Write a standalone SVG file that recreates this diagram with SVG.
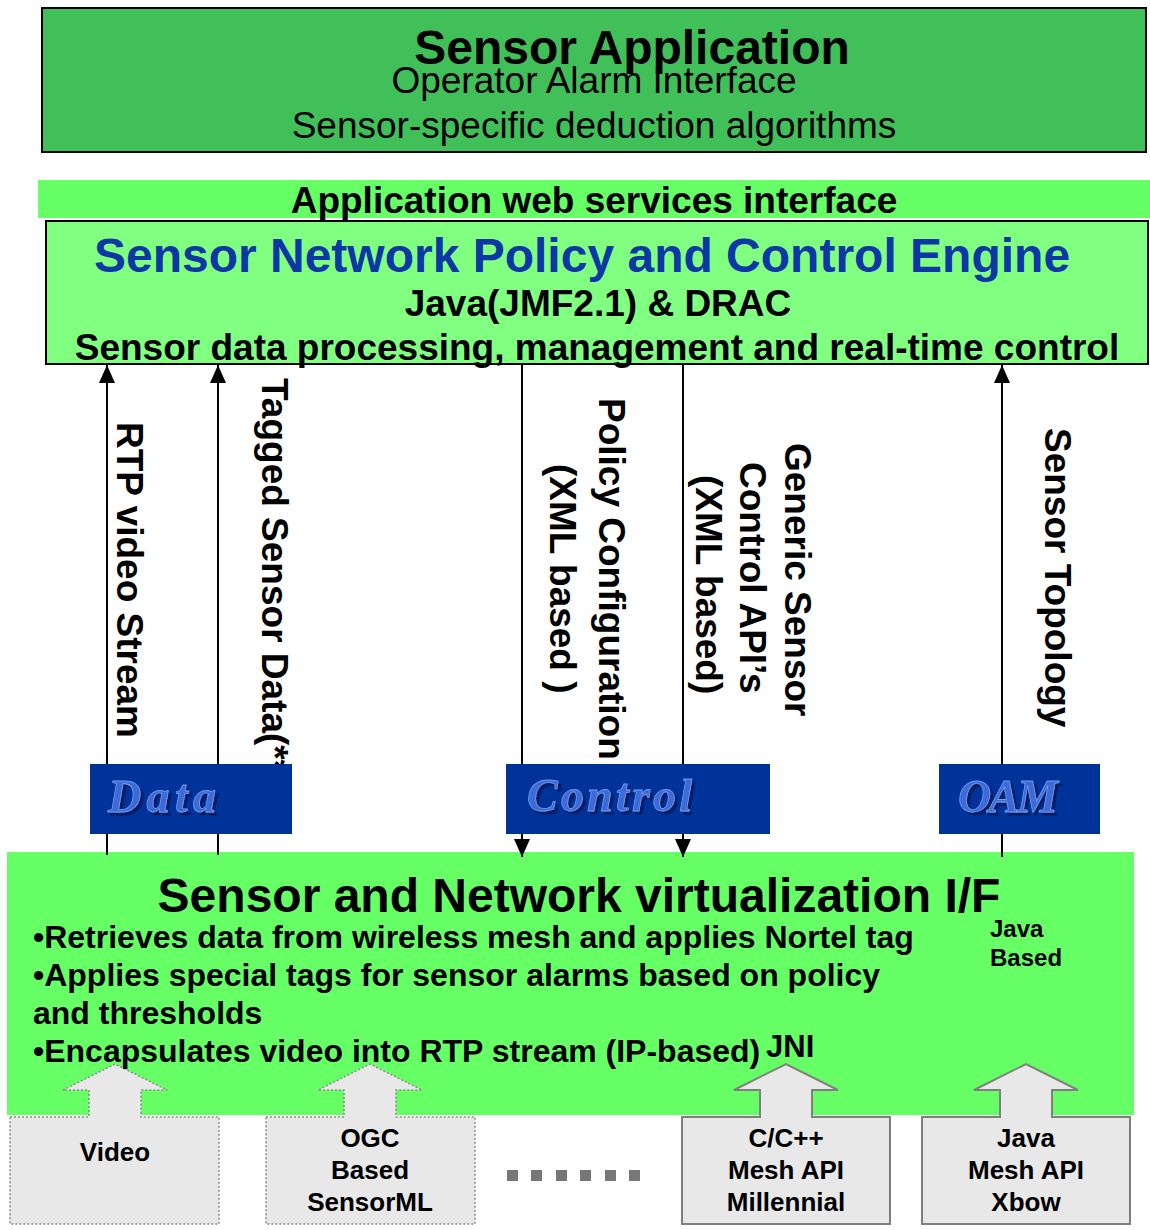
<svg xmlns="http://www.w3.org/2000/svg" width="1150" height="1230" viewBox="0 0 1150 1230">
  <defs>
    <style>
      .sans { font-family: "Liberation Sans", Arial, sans-serif; fill: #000; }
      .b { font-weight: bold; }
      .mid { text-anchor: middle; }
      .vert { font-family: "Liberation Sans", Arial, sans-serif; font-weight: bold; font-size: 37px; fill: #000; }
      .wire { stroke: #000; stroke-width: 2; fill: none; }
      .plane { fill: #003399; }
      .tag { font-family: "Liberation Serif", "Times New Roman", serif; font-style: italic; font-weight: bold; font-size: 46px; fill: #3d6bd6; stroke: #6f9cf2; stroke-width: 0.8; filter: url(#embossed); }
      .src-dotted { fill: #e8e8e8; stroke: #8c8c8c; stroke-width: 1.5; stroke-dasharray: 2 2; }
      .src-solid { fill: #e8e8e8; stroke: #7f7f7f; stroke-width: 2; }
      .src-label { font-family: "Liberation Sans", Arial, sans-serif; font-weight: bold; font-size: 26px; text-anchor: middle; fill: #000; }
    </style>
    <marker id="head" viewBox="0 0 18 16" refX="18" refY="8" markerWidth="18" markerHeight="16" markerUnits="userSpaceOnUse" orient="auto">
      <path d="M0,0 L18,8 L0,16 Z" fill="#000"/>
    </marker>
    <!-- dark drop shadow behind the plane names -->
    <filter id="embossed" x="-10%" y="-20%" width="130%" height="150%">
      <feOffset in="SourceAlpha" dx="3" dy="3" result="off"/>
      <feFlood flood-color="#071f66"/>
      <feComposite in2="off" operator="in" result="shadow"/>
      <feMerge>
        <feMergeNode in="shadow"/>
        <feMergeNode in="SourceGraphic"/>
      </feMerge>
    </filter>
  </defs>

  <rect width="1150" height="1230" fill="#fff"/>

  <!-- Sensor application layer -->
  <g id="sensor-application">
    <rect x="42" y="8" width="1104" height="144" fill="#41bf58" stroke="#000" stroke-width="2"/>
    <text class="sans b mid" x="632" y="64" font-size="48">Sensor Application</text>
    <text class="sans mid" x="594" y="93" font-size="37">Operator Alarm Interface</text>
    <text class="sans mid" x="594" y="138" font-size="37">Sensor-specific deduction algorithms</text>
  </g>

  <!-- Web services interface bar -->
  <g id="web-services">
    <rect x="38" y="180" width="1112" height="38" fill="#66ff66"/>
    <text class="sans b mid" x="594" y="213" font-size="37">Application web services interface</text>
  </g>

  <!-- Policy and control engine -->
  <g id="policy-engine">
    <rect x="46" y="221" width="1102" height="143" fill="#80ff80" stroke="#000" stroke-width="2"/>
    <text class="sans b mid" x="582" y="272" font-size="48" style="fill:#0c37a5">Sensor Network Policy and Control Engine</text>
    <text class="sans b mid" x="598" y="316" font-size="37">Java(JMF2.1) &amp; DRAC</text>
    <text class="sans b mid" x="597" y="360" font-size="37">Sensor data processing, management and real-time control</text>
  </g>

  <!-- Sensor and network virtualization layer (background) -->
  <g id="virtualization-if">
    <rect x="7" y="852" width="1127" height="263" fill="#66ff66"/>
  </g>

  <!-- Flows between the engine and the virtualization layer -->
  <g id="connectors">
    <line class="wire" x1="107" y1="855" x2="107" y2="365" marker-end="url(#head)"/>
    <line class="wire" x1="218" y1="855" x2="218" y2="365" marker-end="url(#head)"/>
    <line class="wire" x1="522" y1="364" x2="522" y2="857" marker-end="url(#head)"/>
    <line class="wire" x1="683" y1="364" x2="683" y2="857" marker-end="url(#head)"/>
    <line class="wire" x1="1002" y1="857" x2="1002" y2="365" marker-end="url(#head)"/>
  </g>

  <!-- Flow labels, set vertically -->
  <g id="flow-labels">
    <text class="vert" transform="translate(117,422) rotate(90)">RTP video Stream</text>
    <text class="vert" transform="translate(262,378) rotate(90)">Tagged Sensor Data(**)</text>
    <text class="vert" transform="translate(599,398) rotate(90)">Policy Configuration</text>
    <text class="vert" transform="translate(550,464) rotate(90)">(XML based )</text>
    <text class="vert" transform="translate(785,443) rotate(90)">Generic Sensor</text>
    <text class="vert" transform="translate(740,462) rotate(90)">Control API’s</text>
    <text class="vert" transform="translate(696,475) rotate(90)">(XML based)</text>
    <text class="vert" transform="translate(1045,428) rotate(90)">Sensor Topology</text>
  </g>

  <!-- Data / Control / OAM planes -->
  <g id="plane-data">
    <rect class="plane" x="90" y="764" width="202" height="70"/>
    <text class="tag" x="108" y="812" textLength="108" lengthAdjust="spacing">Data</text>
  </g>
  <g id="plane-control">
    <rect class="plane" x="506" y="764" width="264" height="70"/>
    <text class="tag" x="527" y="811" textLength="165" lengthAdjust="spacing">Control</text>
  </g>
  <g id="plane-oam">
    <rect class="plane" x="939" y="764" width="161" height="70"/>
    <text class="tag" x="958" y="812" textLength="100" lengthAdjust="spacing">OAM</text>
  </g>

  <!-- Sensor sources feeding the virtualization layer -->
  <g id="src-video">
    <path class="src-dotted" d="M10,1117 H89 V1090 H63 L115,1064 L167,1090 H141 V1117 H219 V1224 H10 Z"/>
    <text class="src-label" x="115" y="1161">Video</text>
  </g>
  <g id="src-ogc">
    <path class="src-dotted" d="M266,1117 H344 V1090 H318 L370,1064 L422,1090 H396 V1117 H475 V1224 H266 Z"/>
    <text class="src-label" x="370" y="1147">OGC</text>
    <text class="src-label" x="370" y="1179">Based</text>
    <text class="src-label" x="370" y="1211">SensorML</text>
  </g>
  <g id="src-more">
    <rect x="507" y="1170" width="11" height="11" fill="#777"/>
    <rect x="531" y="1170" width="11" height="11" fill="#777"/>
    <rect x="556" y="1170" width="11" height="11" fill="#777"/>
    <rect x="580" y="1170" width="11" height="11" fill="#777"/>
    <rect x="605" y="1170" width="11" height="11" fill="#777"/>
    <rect x="629" y="1170" width="11" height="11" fill="#777"/>
  </g>
  <g id="src-millennial">
    <path class="src-solid" d="M682,1117 H760 V1090 H734 L786,1064 L838,1090 H812 V1117 H890 V1224 H682 Z"/>
    <text class="src-label" x="786" y="1147">C/C++</text>
    <text class="src-label" x="786" y="1179">Mesh API</text>
    <text class="src-label" x="786" y="1211">Millennial</text>
  </g>
  <g id="src-xbow">
    <path class="src-solid" d="M922,1117 H1000 V1090 H974 L1026,1064 L1078,1090 H1052 V1117 H1130 V1224 H922 Z"/>
    <text class="src-label" x="1026" y="1147">Java</text>
    <text class="src-label" x="1026" y="1179">Mesh API</text>
    <text class="src-label" x="1026" y="1211">Xbow</text>
  </g>

  <!-- Virtualization layer text -->
  <g id="virtualization-if-text">
    <text class="sans b mid" x="579" y="912" font-size="48">Sensor and Network virtualization I/F</text>
    <text class="sans b" x="33" y="948" font-size="32">•Retrieves data from wireless mesh and applies Nortel tag</text>
    <text class="sans b" x="33" y="986" font-size="32">•Applies special tags for sensor alarms based on policy</text>
    <text class="sans b" x="33" y="1024" font-size="32">and thresholds</text>
    <text class="sans b" x="33" y="1062" font-size="32">•Encapsulates video into RTP stream (IP-based)</text>
    <text class="sans b" x="766" y="1057" font-size="31">JNI</text>
    <text class="sans b" x="990" y="937" font-size="24">Java</text>
    <text class="sans b" x="990" y="966" font-size="24">Based</text>
  </g>
</svg>
